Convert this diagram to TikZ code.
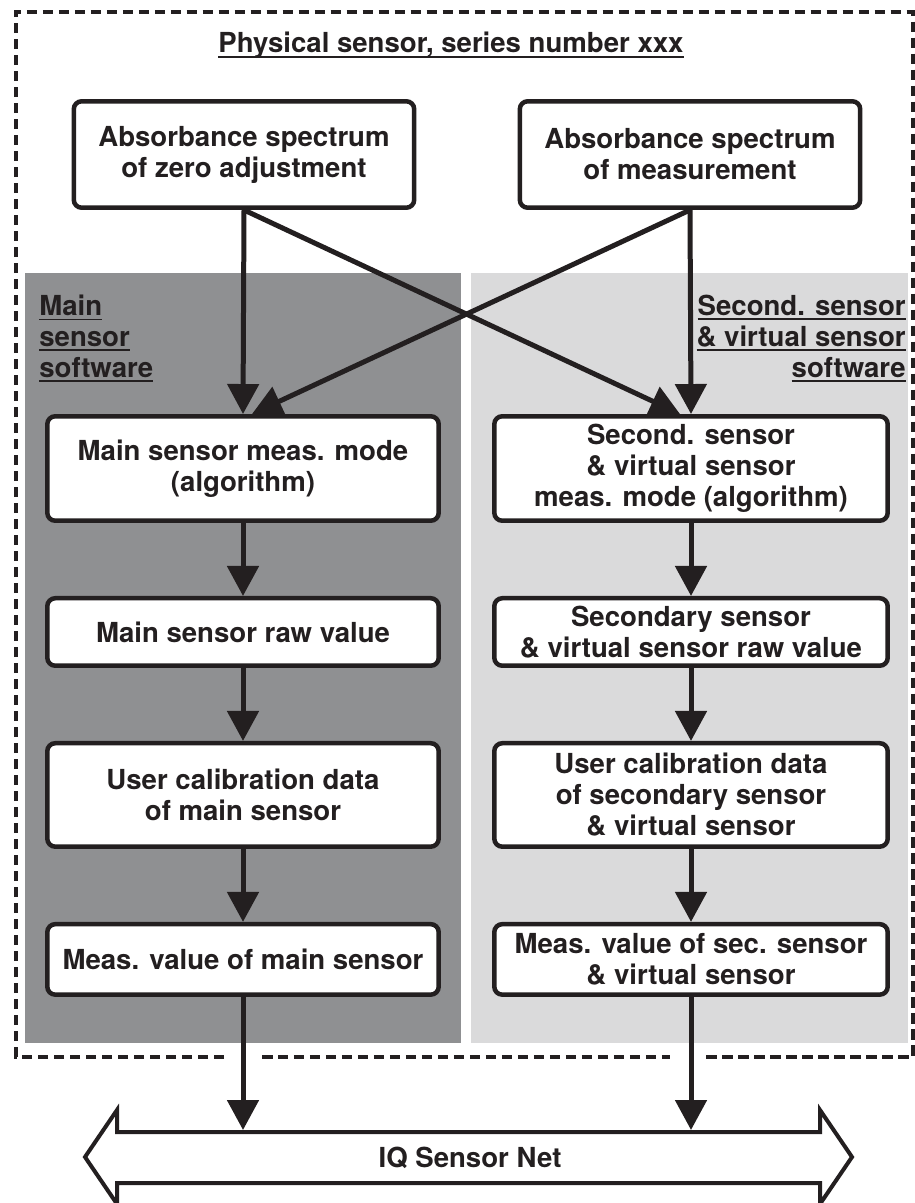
\documentclass[tikz,border=0pt]{standalone}
\usepackage{fontspec}
\setmainfont{TeX Gyre Heros}
\usepackage{xcolor}
\usepackage{tikz}
\usetikzlibrary{arrows.meta, positioning}

\definecolor{ink}{RGB}{35,31,32}
\definecolor{mainpanel}{RGB}{143,144,146}
\definecolor{secpanel}{RGB}{218,218,219}

\newlength\undlwd
\newcommand\undl[1]{\settowidth\undlwd{#1}\rlap{\rule[-2.6pt]{\undlwd}{1.1pt}}#1}

\tikzset{
  boxtext/.style={font=\fontsize{15.7}{17.6}\selectfont\bfseries, text=ink},
  procbox/.style={boxtext, draw=ink, line width=0.09cm, rounded corners=0.16cm, fill=white, align=center, inner sep=0pt},
  flow/.style={draw=ink, line width=0.1cm, -{Triangle[length=0.6cm, width=0.62cm]}},
  frame/.style={draw=ink, line width=0.095cm, dash pattern=on 0.21cm off 0.11cm},
}

\begin{document}
\begin{tikzpicture}[x=0.02cm, y=-0.02cm, node distance=1.46cm]
\useasboundingbox (0,0) rectangle (914,1203);
\fill[mainpanel] (25,273) rectangle (461,1043);
\fill[secpanel] (471,273) rectangle (908,1043);
\draw[frame] (224,1057) -- (16,1057) -- (16,12) -- (913,12) -- (913,1057) -- (705,1057) (262,1057) -- (670,1057);

\node[boxtext, anchor=base] (title) at (451,53) {\undl{Physical sensor, series number xxx}};
\node[boxtext, anchor=north west, align=left, inner sep=0pt] (mainlbl) at (39,295) {\undl{Main}\\\undl{sensor}\\\undl{software}};
\node[boxtext, anchor=north east, align=right, inner sep=0pt] (seclbl) at (906,295) {\undl{Second. sensor}\\\undl{\& virtual sensor}\\\undl{software}};

\node[procbox, minimum width=6.81cm, minimum height=2.13cm] (zero) at (244,154.5) {Absorbance spectrum\\of zero adjustment};
\node[procbox, minimum width=6.81cm, minimum height=2.13cm] (meas) at (690,154.5) {Absorbance spectrum\\of measurement};

\node[procbox, minimum width=7.83cm, minimum height=2.09cm] (mainalg) at (243,468.5) {Main sensor meas. mode\\(algorithm)};
\node[procbox, minimum width=7.83cm, minimum height=1.35cm, below=of mainalg] (mainraw) {Main sensor raw value};
\node[procbox, minimum width=7.83cm, minimum height=2.07cm, below=of mainraw] (maincal) {User calibration data\\of main sensor};
\node[procbox, minimum width=7.83cm, minimum height=1.41cm, below=of maincal] (mainval) {Meas. value of main sensor};

\node[procbox, minimum width=7.87cm, minimum height=2.09cm] (secalg) at (691,468.5) {Second. sensor\\\& virtual sensor\\meas. mode (algorithm)};
\node[procbox, minimum width=7.87cm, minimum height=1.35cm, below=of secalg] (secraw) {Secondary sensor\\\& virtual sensor raw value};
\node[procbox, minimum width=7.87cm, minimum height=2.07cm, below=of secraw] (seccal) {User calibration data\\of secondary sensor\\\& virtual sensor};
\node[procbox, minimum width=7.87cm, minimum height=1.41cm, below=of seccal] (secval) {Meas. value of sec. sensor\\\& virtual sensor};

\draw[flow] (zero.south) -- (mainalg.north);
\draw[flow] (meas.south) -- (secalg.north);
\draw[flow] (zero.south) -- ([xshift=-0.22cm]secalg.north);
\draw[flow] (meas.south) -- ([xshift=0.18cm]mainalg.north);
\foreach \a/\b in {mainalg/mainraw, mainraw/maincal, maincal/mainval, secalg/secraw, secraw/seccal, seccal/secval}
  \draw[flow] (\a) -- (\b);

\draw[ink, line width=0.08cm, fill=white] (85,1157) -- (117,1110) -- (117,1132) -- (820,1132) -- (820,1110) -- (852,1157) -- (820,1204) -- (820,1183) -- (117,1183) -- (117,1204) -- cycle;
\node[boxtext] (net) at (470,1158) {IQ Sensor Net};
\coordinate (nettop) at (0,1130);
\draw[flow] (mainval.south) -- (mainval.south |- nettop);
\draw[flow] (secval.south) -- (secval.south |- nettop);
\end{tikzpicture}
\end{document}
